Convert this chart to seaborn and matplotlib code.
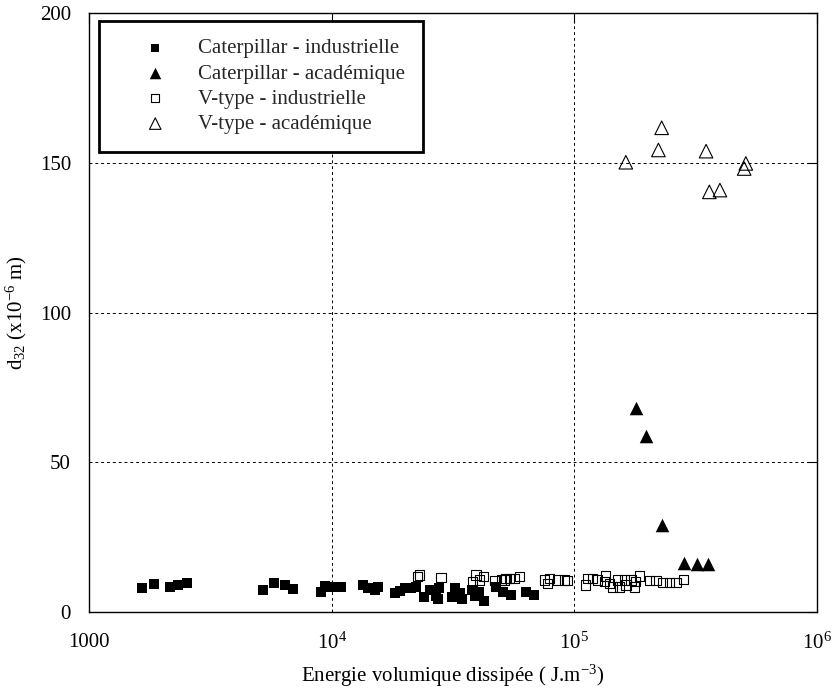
import numpy as np
import pandas as pd
import matplotlib
matplotlib.use("Agg")
import matplotlib.pyplot as plt
import seaborn as sns
from matplotlib.ticker import FixedLocator, FixedFormatter, NullLocator

# ---------------- data ----------------
cat_ind_x = [1656, 1849, 2154, 2330, 2539, 5212, 5768, 6406, 6930,
             9076, 9360, 9970, 10620, 10960, 13450, 14100, 15030, 15500,
             18150, 19050, 19970, 21270, 22310,
             23900, 25300, 26800, 27800, 27300,
             31200, 32100, 33900, 34300,
             37700, 39100, 40600, 42300,
             47700, 50700, 54900, 63300, 68400]
cat_ind_y = [8.0, 9.3, 8.4, 9.0, 9.8, 7.3, 9.8, 9.0, 7.6,
             6.8, 8.7, 8.4, 8.2, 8.4, 9.0, 7.9, 7.3, 8.4,
             6.2, 7.1, 7.9, 7.9, 8.4,
             5.0, 7.3, 5.3, 8.0, 4.3,
             5.0, 8.0, 6.3, 4.3,
             7.3, 5.3, 6.7, 3.7,
             8.2, 6.8, 5.7, 6.8, 5.7]

cat_aca_x = [180000, 197000, 229000, 283000, 320000, 357000]
cat_aca_y = [68.0, 58.9, 29.0, 16.5, 15.9, 15.9]

v_ind_x = [22540, 23010, 28250, 38100, 39360, 40620, 42230, 46880, 49930,
           52340, 51520, 54050, 56640, 59430, 75340, 77660, 78910, 85360,
           90940, 93820, 110900, 113400, 118900, 124700, 134200, 132900,
           139300, 143800, 150800, 153200, 160700, 163300, 171100, 176600,
           178200, 185000, 203500, 216800, 230800, 246000, 262200, 281000]
v_ind_y = [11.8, 12.4, 11.6, 10.1, 12.4, 10.7, 11.8, 10.5, 10.7,
           11.3, 10.7, 11.3, 11.3, 11.8, 10.7, 9.6, 11.3, 10.7,
           10.7, 10.5, 9.0, 11.3, 11.3, 10.7, 12.0, 10.1,
           9.6, 8.4, 10.7, 8.4, 10.7, 9.0, 10.7, 8.4,
           10.1, 12.0, 10.5, 10.5, 9.8, 9.8, 9.8, 10.9]

v_aca_x = [163000, 229000, 222000, 349000, 509000, 501000, 360000, 398000]
v_aca_y = [150.2, 161.7, 154.3, 153.9, 149.8, 148.1, 140.3, 140.9]

labels = ["Caterpillar - industrielle", "Caterpillar - académique",
          "V-type - industrielle", "V-type - académique"]

x_ticks = [1000, 1e4, 1e5, 1e6]
x_tick_labels = ["1000", r"10$^{4}$", r"10$^{5}$", r"10$^{6}$"]
y_ticks = [0, 50, 100, 150, 200]

# ---------------- style ----------------
sns.set_theme(style="white")
plt.rcParams["font.family"] = ["Liberation Serif", "DejaVu Serif"]
plt.rcParams["mathtext.fontset"] = "custom"
plt.rcParams["mathtext.rm"] = "Liberation Serif"
plt.rcParams["mathtext.it"] = "Liberation Serif:italic"
plt.rcParams["mathtext.bf"] = "Liberation Serif:bold"

fig = plt.figure(figsize=(8.32, 6.90), dpi=100)
ax = fig.add_axes([0.107, 0.113, 0.875, 0.868])

df_ci = pd.DataFrame({"x": cat_ind_x, "y": cat_ind_y})
df_ca = pd.DataFrame({"x": cat_aca_x, "y": cat_aca_y})
df_vi = pd.DataFrame({"x": v_ind_x, "y": v_ind_y})
df_va = pd.DataFrame({"x": v_aca_x, "y": v_aca_y})

sns.scatterplot(data=df_ci, x="x", y="y", ax=ax, marker="s", s=55,
                color="black", linewidth=0, label=labels[0], zorder=3)
sns.scatterplot(data=df_ca, x="x", y="y", ax=ax, marker="^", s=95,
                color="black", linewidth=0, label=labels[1], zorder=3)
sns.scatterplot(data=df_vi, x="x", y="y", ax=ax, marker="s", s=45,
                facecolor="none", edgecolor="black", linewidth=0.8,
                label=labels[2], zorder=3)
sns.scatterplot(data=df_va, x="x", y="y", ax=ax, marker="^", s=95,
                facecolor="none", edgecolor="black", linewidth=0.8,
                label=labels[3], zorder=3)

ax.set_xscale("log")
ax.set_xlim(1000, 1e6)
ax.set_ylim(0, 200)
ax.xaxis.set_major_locator(FixedLocator(x_ticks))
ax.xaxis.set_major_formatter(FixedFormatter(x_tick_labels))
ax.xaxis.set_minor_locator(NullLocator())
ax.set_yticks(y_ticks)
ax.yaxis.set_minor_locator(NullLocator())

ax.tick_params(axis="both", which="major", direction="in", length=7,
               width=0.8, color="black", top=True, right=True,
               labelsize=15, labelcolor="black")
ax.tick_params(axis="x", pad=15)
ax.tick_params(axis="y", pad=13)

ax.grid(True, which="major", color="black", linestyle=(0, (3, 3)),
        linewidth=0.7)
for sp in ax.spines.values():
    sp.set_visible(True)
    sp.set_color("black")
    sp.set_linewidth(1.0)

ax.set_xlabel(r"Energie volumique dissipée ( J.m$^{-3}$)", fontsize=15,
              color="black", labelpad=6)
ax.set_ylabel(r"d$_{32}$ (x10$^{-6}$ m)", fontsize=15, color="black",
              labelpad=8)

leg = ax.legend(loc="upper left", bbox_to_anchor=(0.0137, 0.9866),
                borderaxespad=0, fontsize=15, frameon=True,
                fancybox=False, edgecolor="black", framealpha=1,
                handlelength=3.7, handletextpad=0.2, labelspacing=0.27,
                borderpad=0.85, markerscale=0.85)
leg.get_frame().set_linewidth(2.0)

fig.savefig("out.png", dpi=100)
